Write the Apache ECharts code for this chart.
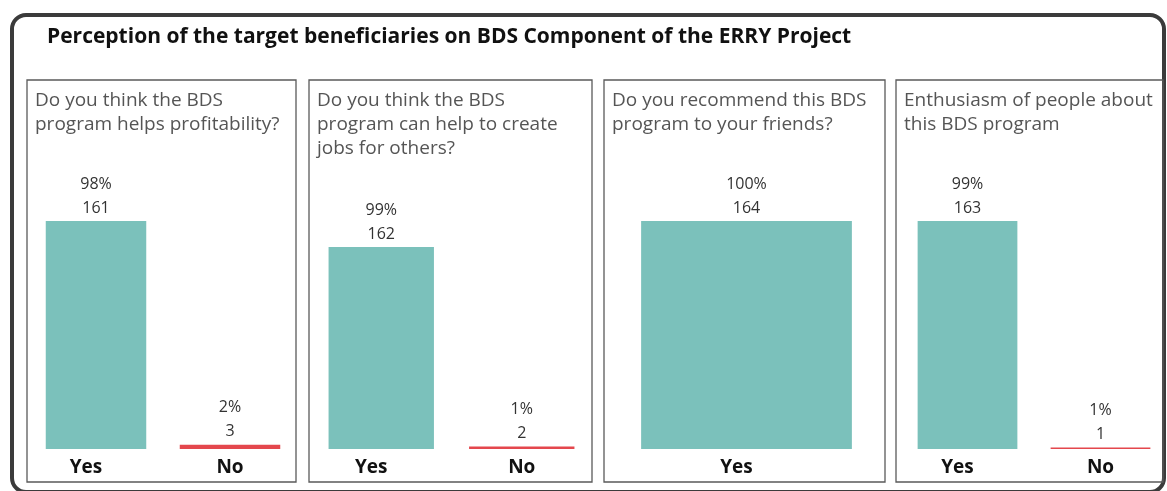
<!DOCTYPE html>
<html>
<head>
<meta charset="utf-8">
<script src="https://cdn.jsdelivr.net/npm/echarts@6/dist/echarts.min.js"></script>
<style>
html,body{margin:0;padding:0;background:#fff;}
#c{width:1167px;height:491px;}
</style>
</head>
<body>
<div id="c"></div>
<script>
const chartTitle = 'Perception of the target beneficiaries on BDS Component of the ERRY Project';
const panelTitles = [
  'Do you think the BDS\nprogram helps profitability?',
  'Do you think the BDS\nprogram can help to create\njobs for others?',
  'Do you recommend this BDS\nprogram to your friends?',
  'Enthusiasm of people about\nthis BDS program'
];
const categories = [['Yes','No'],['Yes','No'],['Yes'],['Yes','No']];
const counts = [[161,3],[162,2],[164],[163,1]];

const catColors = {Yes:'#7bc1bb', No:'#e4474d'};
const font = '"Open Sans", "Noto Sans", sans-serif';

// layout: [panel box left, right], grid [left, width, top]
const boxes = [[27,296],[309,592],[604,885],[896,1163]];
const grids = [[29,268,221],[311,281,247],[606,281,221],[901,269,221]];

const chart = echarts.init(document.getElementById('c'), null, {renderer:'canvas'});

const grid = [], xAxis = [], yAxis = [], series = [], graphic = [];

graphic.push({type:'rect', shape:{x:12,y:15,width:1152,height:477,r:14},
  style:{fill:'none', stroke:'#3b3b3b', lineWidth:4}, z:0});
graphic.push({type:'text', left:47, top:27,
  style:{text:chartTitle, font:'bold 21px "Open Sans", sans-serif', fill:'#111'}});

counts.forEach((vals,i)=>{
  const total = vals.reduce((a,b)=>a+b,0);
  const b = boxes[i];
  graphic.push({type:'rect', shape:{x:b[0],y:80,width:b[1]-b[0],height:402},
    style:{fill:'none', stroke:'#5a5a5a', lineWidth:1.3}, z:0});
  graphic.push({type:'text', left:b[0]+8, top:89,
    style:{text:panelTitles[i], font:'19px "Open Sans", sans-serif', fill:'#555', lineHeight:24}});
  const g = grids[i];
  grid.push({left:g[0], width:g[1], top:g[2], bottom:42, containLabel:false});
  xAxis.push({type:'category', gridIndex:i, data:categories[i],
    axisLine:{show:false}, axisTick:{show:false},
    axisLabel:{margin:9,
      formatter:v=> v==='Yes' ? '{y|'+v+'}' : '{n|'+v+'}',
      rich:{
        y:{fontFamily:font, fontWeight:'bold', fontSize:19, color:'#111', padding:[0,20,0,0]},
        n:{fontFamily:font, fontWeight:'bold', fontSize:19, color:'#111'}
      }}});
  yAxis.push({type:'value', gridIndex:i, min:0, max:'dataMax', show:false, splitLine:{show:false}});
  series.push({type:'bar', xAxisIndex:i, yAxisIndex:i, barWidth:'75%',
    data: vals.map((v,j)=>({value:v, itemStyle:{color:catColors[categories[i][j]]}})),
    label:{show:true, position:'top', distance:1, fontFamily:font, fontSize:16, color:'#333', lineHeight:24,
      formatter:p=>Math.round(p.value/total*100)+'%\n'+p.value},
    animation:false});
});

chart.setOption({animation:false, grid, xAxis, yAxis, series, graphic});
</script>
</body>
</html>
